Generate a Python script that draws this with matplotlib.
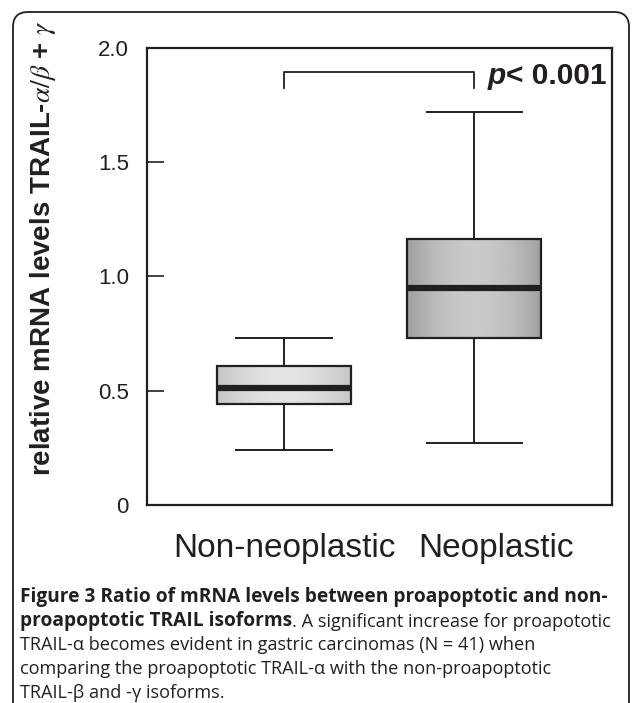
import numpy as np
import matplotlib.pyplot as plt
from matplotlib.patches import FancyBboxPatch
from matplotlib.transforms import ScaledTranslation

plt.rcParams['font.family'] = ['Liberation Sans', 'DejaVu Sans']
plt.rcParams['mathtext.fontset'] = 'stix'

# box plot summary values
groups = ['Non-neoplastic', 'Neoplastic']
positions = [1, 2]
q1 = [0.44, 0.73]
med = [0.51, 0.95]
q3 = [0.61, 1.165]
whislo = [0.24, 0.27]
whishi = [0.73, 1.72]

yticks = [0, 0.5, 1.0, 1.5, 2.0]
yticklabels = ['0', '0.5', '1.0', '1.5', '2.0']
bracket_y = 1.895
bracket_drop = 0.07

cap_bold = ['Figure 3 Ratio of mRNA levels between proapoptotic and non-',
            'proapoptotic TRAIL isoforms']
cap_rest = ['. A significant increase for proapototic',
            'TRAIL-\u03b1 becomes evident in gastric carcinomas (N = 41) when',
            'comparing the proapoptotic TRAIL-\u03b1 with the non-proapoptotic',
            'TRAIL-\u03b2 and -\u03b3 isoforms.']

ink = '#231f20'

fig = plt.figure(figsize=(6.33, 7.03), dpi=100)
ax = fig.add_axes([0.2322, 0.2817, 0.7346, 0.650])

stats = []
for i in range(len(groups)):
    stats.append(dict(med=med[i], q1=q1[i], q3=q3[i], whislo=whislo[i],
                      whishi=whishi[i], fliers=[]))

bw = 0.71
bp = ax.bxp(stats, positions=positions, widths=bw, capwidths=0.5,
            patch_artist=True, showfliers=False,
            boxprops=dict(facecolor='none', edgecolor=ink, linewidth=1.6, zorder=3),
            medianprops=dict(color=ink, linewidth=4.5, solid_capstyle='butt', zorder=4),
            whiskerprops=dict(color=ink, linewidth=1.4),
            capprops=dict(color=ink, linewidth=1.4))

# grey gradient inside the boxes (lighter in the middle)
shades = [(0.77, 0.89), (0.62, 0.79)]
g = np.linspace(0, 1, 200)
for i, patch in enumerate(bp['boxes']):
    edge, mid = shades[i]
    prof = edge + (mid - edge) * (1 - (2 * g - 1) ** 2)
    ax.imshow(prof[np.newaxis, :], extent=[positions[i] - bw / 2, positions[i] + bw / 2, q1[i], q3[i]],
              aspect='auto', cmap='gray', vmin=0, vmax=1, interpolation='bilinear',
              clip_path=patch, zorder=2)

# significance bracket
ax.plot([positions[0], positions[0], positions[1], positions[1]],
        [bracket_y - bracket_drop, bracket_y, bracket_y, bracket_y - bracket_drop],
        color=ink, lw=1.3)
pt = ax.text(2.07, 1.842, 'p', fontsize=21.5, fontweight='bold', style='italic',
             va='baseline', color=ink)
ax.annotate('< 0.001', xy=(1, 0), xycoords=pt, va='bottom', ha='left',
            fontsize=21.5, fontweight='bold', color=ink)

ax.set_xlim(0.279, 2.726)
ax.set_ylim(0, 2.0)
ax.set_yticks(yticks)
ax.set_yticklabels(yticklabels)
ax.set_xticks(positions)
ax.set_xticklabels(groups)
ax.tick_params(axis='y', direction='in', length=12, width=1.2, pad=13,
               labelsize=16, color=ink, labelcolor=ink)
ax.tick_params(axis='x', length=0, pad=20, labelsize=24, labelcolor=ink)
lab = ax.get_xticklabels()[1]
lab.set_transform(lab.get_transform() + ScaledTranslation(0.22, 0, fig.dpi_scale_trans))
for s in ax.spines.values():
    s.set_color(ink)
    s.set_linewidth(1.6)

ax.set_ylabel(r'relative mRNA levels TRAIL-$\alpha/\beta$ + $\gamma$',
              fontsize=20, fontweight='bold', color=ink)
ax.yaxis.set_label_coords(-0.191, 0.562)

# caption (left aligned, ragged right)
cap_font = ['Open Sans', 'DejaVu Sans']
x0 = 0.20
base_px = [602, 626, 650, 674, 698]
fig.text(x0, (703 - base_px[0]) / 100, cap_bold[0], transform=fig.dpi_scale_trans,
         family=cap_font, fontweight='bold', fontsize=13.8, va='baseline', color=ink)
b2 = fig.text(x0, (703 - base_px[1]) / 100, cap_bold[1], transform=fig.dpi_scale_trans,
              family=cap_font, fontweight='bold', fontsize=13.8, va='baseline', color=ink)
ax.annotate(cap_rest[0], xy=(1, 0), xycoords=b2, va='bottom', ha='left',
            family=cap_font, fontsize=13.1, color=ink, annotation_clip=False)
for k in range(1, 4):
    fig.text(x0, (703 - base_px[k + 1]) / 100, cap_rest[k], transform=fig.dpi_scale_trans,
             family=cap_font, fontsize=13.1, va='baseline', color=ink)

# rounded frame around the figure panel
frame = FancyBboxPatch((0.13, -0.3), 6.16, 7.21, boxstyle='round,pad=0,rounding_size=0.15',
                       transform=fig.dpi_scale_trans, fill=False, edgecolor=ink, lw=1.3,
                       clip_on=False)
fig.patches.append(frame)

fig.savefig('out.png', dpi=100)
